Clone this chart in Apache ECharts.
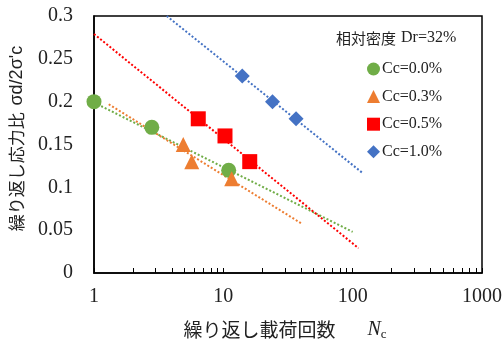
<!DOCTYPE html>
<html>
<head>
<meta charset="utf-8">
<script src="https://cdn.jsdelivr.net/npm/echarts@6/dist/echarts.min.js"></script>
<style>
  html, body { margin: 0; padding: 0; background: #fff; }
  #chart { width: 502px; height: 342px; }
</style>
</head>
<body>
<div id="chart"></div>
<script>
// Cyclic stress ratio vs number of loading cycles, relative density Dr=32%
const seriesNames = ['Cc=0.0%', 'Cc=0.3%', 'Cc=0.5%', 'Cc=1.0%'];
const seriesColors = ['#70AD47', '#ED7D31', '#FF0000', '#4472C4'];
const seriesSymbols = ['circle', 'triangle', 'rect', 'diamond'];

// measured points: [Nc, σd/2σ'c]
const pointsCc00 = [[1, 0.2], [2.8, 0.17], [11, 0.12]];
const pointsCc03 = [[4.9, 0.15], [5.7, 0.13], [11.6, 0.11]];
const pointsCc05 = [[6.4, 0.18], [10.3, 0.16], [16, 0.13]];
const pointsCc10 = [[14, 0.23], [24, 0.2], [36.5, 0.18]];

// logarithmic trend lines, start and end points
const trendCc00 = [[1, 0.199], [100, 0.048]];
const trendCc03 = [[1.3, 0.197], [41, 0.057]];
const trendCc05 = [[1, 0.279], [111, 0.029]];
const trendCc10 = [[3.65, 0.3], [121, 0.116]];

const xTickValues = [1, 2, 3, 4, 5, 6, 7, 8, 9, 10, 20, 30, 40, 50, 60, 70, 80, 90,
  100, 200, 300, 400, 500, 600, 700, 800, 900, 1000];
const xLabelValues = [1, 10, 100, 1000];

const pointSets = [pointsCc00, pointsCc03, pointsCc05, pointsCc10];
const trendSets = [trendCc00, trendCc03, trendCc05, trendCc10];

const serif = '"Liberation Serif", "Times New Roman", serif';
const jp = '"Noto Sans CJK JP", sans-serif';

const series = [];
trendSets.forEach((d, i) => {
  series.push({
    type: 'line',
    data: d,
    symbol: 'none',
    silent: true,
    z: 1,
    lineStyle: { color: seriesColors[i], width: 2, type: [2, 2] }
  });
});
pointSets.forEach((d, i) => {
  series.push({
    name: seriesNames[i],
    type: 'scatter',
    data: d,
    symbol: seriesSymbols[i],
    symbolSize: 15,
    clip: false,
    z: 3,
    itemStyle: { color: seriesColors[i], opacity: 1 }
  });
});

const chart = echarts.init(document.getElementById('chart'), null, { renderer: 'canvas' });
chart.setOption({
  animation: false,
  backgroundColor: '#fff',
  grid: {
    left: 94, right: 20, top: 16, bottom: 69,
    outerBoundsMode: 'none', containLabel: false,
    show: true, borderColor: '#000', borderWidth: 1.5, backgroundColor: 'transparent'
  },
  title: {
    text: '{jp|相対密度} {s|Dr=32%}',
    left: 331, top: 24,
    textStyle: {
      fontWeight: 'normal',
      rich: {
        jp: { fontFamily: jp, fontSize: 15, fontWeight: 'normal', color: '#222' },
        s: { fontFamily: serif, fontSize: 16, fontWeight: 'normal', color: '#222' }
      }
    }
  },
  legend: {
    orient: 'vertical',
    left: 362, top: 56,
    itemWidth: 13, itemHeight: 13, itemGap: 11.6,
    data: seriesNames.map((n, i) => ({ name: n, icon: seriesSymbols[i] })),
    textStyle: { fontFamily: serif, fontSize: 16, color: '#222', padding: [0, 0, 0, -3] }
  },
  xAxis: {
    type: 'log', logBase: 10, min: 1, max: 1000,
    name: '{jp|繰り返し載荷回数}{n|N}{c|c}',
    nameLocation: 'middle', nameGap: 46,
    nameTextStyle: {
      padding: [0, 6, 0, 0],
      rich: {
        jp: { fontFamily: jp, fontSize: 19, color: '#222' },
        n: { fontFamily: serif, fontStyle: 'italic', fontSize: 20, color: '#222', padding: [0, 0, 0, 32] },
        c: { fontFamily: serif, fontSize: 13, color: '#222', padding: [9, 0, 0, 0] }
      }
    },
    axisLine: { show: true, lineStyle: { color: '#000', width: 1.5 } },
    axisTick: { show: true, inside: true, length: 5, customValues: xTickValues, lineStyle: { color: '#000', width: 1 } },
    minorTick: { show: false },
    axisLabel: {
      customValues: xLabelValues, fontFamily: serif, fontSize: 20, color: '#222', margin: 14,
      formatter: v => String(Math.round(v))
    },
    splitLine: { show: false }
  },
  yAxis: {
    type: 'value', min: 0, max: 0.3, interval: 0.05,
    name: '{jp|繰り返し応力比}  {s|σd/2σ\'c}',
    nameLocation: 'middle', nameRotate: 90, nameGap: 68,
    nameTextStyle: {
      padding: [0, 0, 0, 12],
      rich: {
        jp: { fontFamily: jp, fontSize: 17, color: '#222' },
        s: { fontFamily: '"Liberation Sans", Arial, sans-serif', fontSize: 18, color: '#222' }
      }
    },
    axisLine: { show: true, lineStyle: { color: '#000', width: 1.5 } },
    axisTick: { show: false },
    axisLabel: {
      fontFamily: serif, fontSize: 20, color: '#222', margin: 21,
      formatter: v => String(Math.round(v * 100) / 100)
    },
    splitLine: { show: false }
  },
  series: series
});
</script>
</body>
</html>
